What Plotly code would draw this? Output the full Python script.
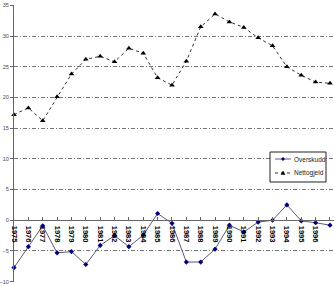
import plotly.graph_objects as go

years = list(range(1975, 1998))
year_labels = [str(y) for y in years]
overskudd = [-7.7, -4.3, -0.9, -5.3, -5.1, -7.2, -4.1, -2.5, -4.3, -2.4, 1.1, -0.5,
             -6.8, -6.8, -4.7, -0.8, -1.9, -0.3, 0.0, 2.5, -0.1, -0.4, -0.8]
nettogjeld = [17.2, 18.3, 16.2, 20.1, 23.8, 26.2, 26.7, 25.8, 28.0, 27.2, 23.2, 22.0,
              25.9, 31.5, 33.6, 32.3, 31.4, 29.7, 28.4, 25.0, 23.6, 22.5, 22.3]
series_names = ["Overskudd", "Nettogjeld"]
ytick_vals = [-10, -5, 0, 5, 10, 15, 20, 25, 30, 35]

W, H = 334, 285
ML, MR, MT, MB = 14, 0, 5, 3
ymin, ymax = -10.05, 35.05

def px(x):  # pixel -> paper x
    return (x - ML) / (W - ML - MR)

def py(y):  # pixel -> paper y
    return (H - MB - y) / (H - MT - MB)

fig = go.Figure()
fig.add_trace(go.Scatter(
    x=years, y=overskudd, name=series_names[0], mode="lines+markers",
    line=dict(color="#5a5a7a", width=1),
    marker=dict(symbol="diamond", size=4, color="#000080"),
    cliponaxis=False, showlegend=False))
fig.add_trace(go.Scatter(
    x=years, y=nettogjeld, name=series_names[1], mode="lines+markers",
    line=dict(color="#333333", width=1, dash="dot"),
    marker=dict(symbol="triangle-up", size=5, color="#000000"),
    cliponaxis=False, showlegend=False))

# legend box (drawn by hand to match the compact original legend)
shapes = [dict(type="rect", xref="paper", yref="paper",
               x0=px(270), x1=px(326), y0=py(182), y1=py(152),
               fillcolor="white", line=dict(color="#222", width=1), layer="above")]
shapes.append(dict(type="line", xref="paper", yref="paper",
                   x0=px(275), x1=px(291), y0=py(159), y1=py(159),
                   line=dict(color="#5a5a7a", width=1), layer="above"))
shapes.append(dict(type="path", xref="paper", yref="paper", layer="above",
                   path=f"M {px(283)} {py(157.3)} L {px(284.7)} {py(159)} L {px(283)} {py(160.7)} L {px(281.3)} {py(159)} Z",
                   fillcolor="#000080", line=dict(color="#000080", width=0.5)))
shapes.append(dict(type="line", xref="paper", yref="paper",
                   x0=px(275), x1=px(291), y0=py(173), y1=py(173),
                   line=dict(color="#333", width=1, dash="dot"), layer="above"))
shapes.append(dict(type="path", xref="paper", yref="paper", layer="above",
                   path=f"M {px(283)} {py(171)} L {px(285)} {py(174.5)} L {px(281)} {py(174.5)} Z",
                   fillcolor="#000", line=dict(color="#000", width=0.5)))

annotations = [
    dict(xref="paper", yref="paper", x=px(292), y=py(159), text=series_names[0],
         showarrow=False, xanchor="left", yanchor="middle",
         font=dict(size=6.5, color="#222")),
    dict(xref="paper", yref="paper", x=px(292), y=py(173), text=series_names[1],
         showarrow=False, xanchor="left", yanchor="middle",
         font=dict(size=6.5, color="#222")),
]

zero_pos = (0 - ymin) / (ymax - ymin)
fig.update_layout(
    width=W, height=H,
    margin=dict(l=ML, r=MR, t=MT, b=MB),
    paper_bgcolor="white", plot_bgcolor="white",
    font=dict(family="Liberation Sans, Arial, sans-serif", size=6, color="#222"),
    showlegend=False,
    shapes=shapes, annotations=annotations,
    xaxis=dict(
        range=[1975, 1997.28], tickmode="array", tickvals=years,
        ticktext=["<b>" + t + "</b>" for t in year_labels],
        tickangle=90, tickfont=dict(size=7.5, color="#000", family="Liberation Sans, Arial"),
        ticklabelstandoff=3,
        showgrid=False, zeroline=False, showline=True, linecolor="#666", linewidth=1,
        ticks="inside", ticklen=3, tickcolor="#666",
        anchor="free", position=zero_pos),
    yaxis=dict(
        range=[ymin, ymax], tickmode="array", tickvals=ytick_vals,
        tickfont=dict(size=5.5, color="#444"),
        showgrid=True, gridcolor="#777", gridwidth=1, griddash="4px,2px,1px,2px",
        zeroline=False, showline=True, linecolor="#666", linewidth=1,
        ticks="outside", ticklen=3, tickcolor="#666"),
)
fig.write_html("out.html")
